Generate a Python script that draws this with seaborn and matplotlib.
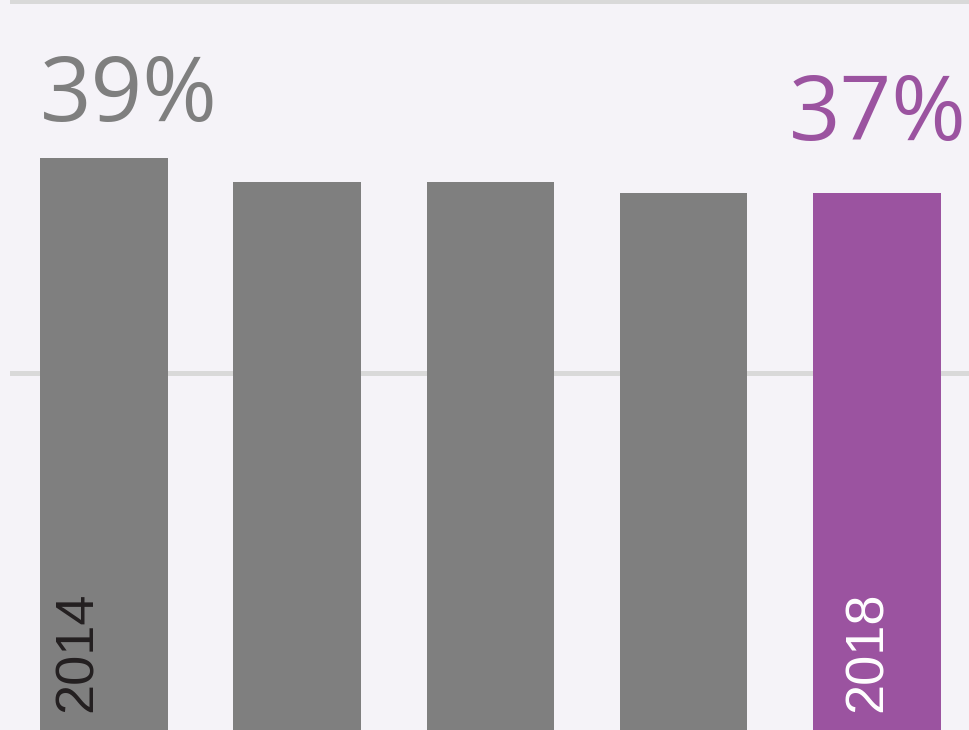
"""Share by year bar chart, last year highlighted."""

import matplotlib.pyplot as plt
import pandas as pd
import seaborn as sns

# Data
years = ["2014", "2015", "2016", "2017", "2018"]
shares = [39.5, 37.9, 37.9, 37.1, 37.1]
bar_colors = ["#7f7f7f", "#7f7f7f", "#7f7f7f", "#7f7f7f", "#9b53a0"]
year_label_colors = ["#231f20", None, None, None, "#ffffff"]
callouts = {0: "39%", 4: "37%"}

BG = "#f5f3f8"
GRID = "#d9d9d9"

df = pd.DataFrame({"year": years, "share": shares})

sns.set_style("white")
plt.rcParams["font.family"] = ["Open Sans", "DejaVu Sans"]

fig = plt.figure(figsize=(9.69, 7.30), dpi=100)
fig.patch.set_facecolor(BG)
ax = fig.add_axes([10 / 969, 0, 959 / 969, 1])
ax.set_facecolor(BG)

sns.barplot(
    data=df,
    x="year",
    y="share",
    hue="year",
    palette=bar_colors,
    width=0.66,
    legend=False,
    saturation=1,
    linewidth=0,
    ax=ax,
)

# Crop the view like the original picture
ax.set_xlim(-0.4865, 4.477)
ax.set_ylim(1.04, 50.1)

ax.set_yticks([25, 50])
ax.yaxis.grid(True, color=GRID, linewidth=3.6)
ax.set_axisbelow(True)
ax.tick_params(left=False, bottom=False, labelleft=False, labelbottom=False)
ax.set_xlabel("")
ax.set_ylabel("")
for spine in ax.spines.values():
    spine.set_visible(False)

# Big percentage callouts
ax.text(
    -0.332, 42.0, callouts[0], ha="left", va="baseline",
    fontsize=65, color=bar_colors[0],
)
ax.text(
    4.466, 40.7, callouts[4], ha="right", va="baseline",
    fontsize=65, color=bar_colors[4],
)

# Year labels inside first and last bars
label_offsets = {0: -0.137, 4: -0.048}
for i, offset in label_offsets.items():
    ax.text(
        i + offset, 2.25, years[i], rotation=90, ha="center", va="bottom",
        fontsize=39, color=year_label_colors[i], family="Liberation Sans",
    )

fig.savefig("out.png", dpi=100, facecolor=BG)
